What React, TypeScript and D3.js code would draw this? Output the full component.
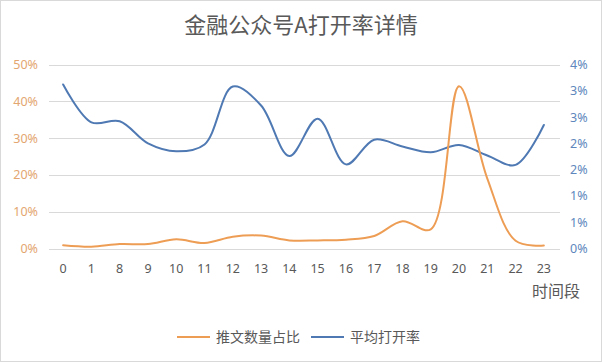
import * as d3 from 'd3';
import React, { useEffect, useRef } from 'react';

const hours = ['0', '1', '8', '9', '10', '11', '12', '13', '14', '15', '16', '17', '18', '19', '20', '21', '22', '23'];
// 推文数量占比 (%), left axis
const postShare = [0.9, 0.5, 1.2, 1.2, 2.5, 1.5, 3.2, 3.5, 2.2, 2.2, 2.4, 3.4, 7.4, 5.2, 44.1, 19, 2.1, 0.8];
// 平均打开率 (%), right axis
const openRate = [3.12, 2.4, 2.42, 2.0, 1.85, 1.98, 3.08, 2.72, 1.76, 2.47, 1.6, 2.07, 1.94, 1.83, 1.97, 1.77, 1.59, 2.35];
const leftTicks = [0, 10, 20, 30, 40, 50];
const rightTicks = [0, 0.5, 1, 1.5, 2, 2.5, 3, 3.5];

const W = 602;
const H = 362;
const ORANGE = '#EE9D55';
const BLUE = '#4F79B3';
const FONT = '"Noto Sans", "Noto Sans CJK SC", sans-serif';
const CJK = '"Noto Sans CJK SC", sans-serif';

const App = () => {
  const svgRef = useRef<SVGSVGElement>(null);

  useEffect(() => {
    const svg = d3.select(svgRef.current);
    svg.selectAll('*').remove();

    const left = 49;
    const right = 558;
    const top = 64.5;
    const bottom = 248.5;

    const x = d3.scaleBand().domain(hours).range([left, right]);
    const yL = d3.scaleLinear().domain([0, 50]).range([bottom, top]);
    const yR = d3.scaleLinear().domain([0, 3.5]).range([bottom, top]);

    svg.append('rect')
      .attr('x', 0.5).attr('y', 0.5)
      .attr('width', W - 1).attr('height', H - 1)
      .attr('fill', 'white').attr('stroke', '#D9D9D9');

    // title
    svg.append('text')
      .attr('x', 301).attr('y', 33)
      .attr('text-anchor', 'middle')
      .attr('font-family', CJK).attr('font-size', 22)
      .attr('fill', '#595959')
      .text('金融公众号A打开率详情');

    // gridlines
    svg.append('g').selectAll('line')
      .data(leftTicks)
      .enter().append('line')
      .attr('x1', left).attr('x2', right + 2)
      .attr('y1', (d) => Math.round(yL(d)) + 0.5)
      .attr('y2', (d) => Math.round(yL(d)) + 0.5)
      .attr('stroke', '#D9D9D9').attr('stroke-width', 1);

    // left axis labels
    svg.append('g').selectAll('text')
      .data(leftTicks)
      .enter().append('text')
      .attr('x', 38).attr('y', (d) => yL(d))
      .attr('dy', '0.36em')
      .attr('text-anchor', 'end')
      .attr('font-family', FONT).attr('font-size', 12.5)
      .attr('fill', '#E3A670')
      .text((d) => d + '%');

    // right axis labels, rounded to whole percent like the original
    svg.append('g').selectAll('text')
      .data(rightTicks)
      .enter().append('text')
      .attr('x', 570).attr('y', (d) => yR(d))
      .attr('dy', '0.36em')
      .attr('font-family', FONT).attr('font-size', 12.5)
      .attr('fill', '#5E87BD')
      .text((d) => Math.round(d) + '%');

    // x labels
    svg.append('g').selectAll('text')
      .data(hours)
      .enter().append('text')
      .attr('x', (d) => (x(d) as number) + x.bandwidth() / 2)
      .attr('y', 268)
      .attr('dy', '0.36em')
      .attr('text-anchor', 'middle')
      .attr('font-family', FONT).attr('font-size', 12.5)
      .attr('fill', '#595959')
      .text((d) => d);

    svg.append('text')
      .attr('x', 580).attr('y', 291)
      .attr('dy', '0.36em')
      .attr('text-anchor', 'end')
      .attr('font-family', CJK).attr('font-size', 16)
      .attr('fill', '#595959')
      .text('时间段');

    const cx = (i: number) => (x(hours[i]) as number) + x.bandwidth() / 2;

    const lineL = d3.line<number>()
      .x((_, i) => cx(i))
      .y((d) => yL(d))
      .curve(d3.curveCatmullRom.alpha(0.5));
    const lineR = d3.line<number>()
      .x((_, i) => cx(i))
      .y((d) => yR(d))
      .curve(d3.curveCatmullRom.alpha(0.5));

    svg.append('path')
      .attr('d', lineR(openRate))
      .attr('fill', 'none').attr('stroke', BLUE)
      .attr('stroke-width', 2).attr('stroke-linecap', 'round');

    svg.append('path')
      .attr('d', lineL(postShare))
      .attr('fill', 'none').attr('stroke', ORANGE)
      .attr('stroke-width', 2).attr('stroke-linecap', 'round');

    // legend
    const legend = [
      { name: '推文数量占比', color: ORANGE, x: 177 },
      { name: '平均打开率', color: BLUE, x: 311 },
    ];
    const lg = svg.append('g');
    legend.forEach((l) => {
      lg.append('line')
        .attr('x1', l.x).attr('x2', l.x + 33)
        .attr('y1', 337).attr('y2', 337)
        .attr('stroke', l.color).attr('stroke-width', 2);
      lg.append('text')
        .attr('x', l.x + 39).attr('y', 337)
        .attr('dy', '0.36em')
        .attr('font-family', CJK).attr('font-size', 14)
        .attr('fill', '#595959')
        .text(l.name);
    });
  }, []);

  return (
    <svg
      ref={svgRef}
      width={W}
      height={H}
      style={{ position: 'absolute', left: 0, top: 0 }}
    ></svg>
  );
};

export default App;
